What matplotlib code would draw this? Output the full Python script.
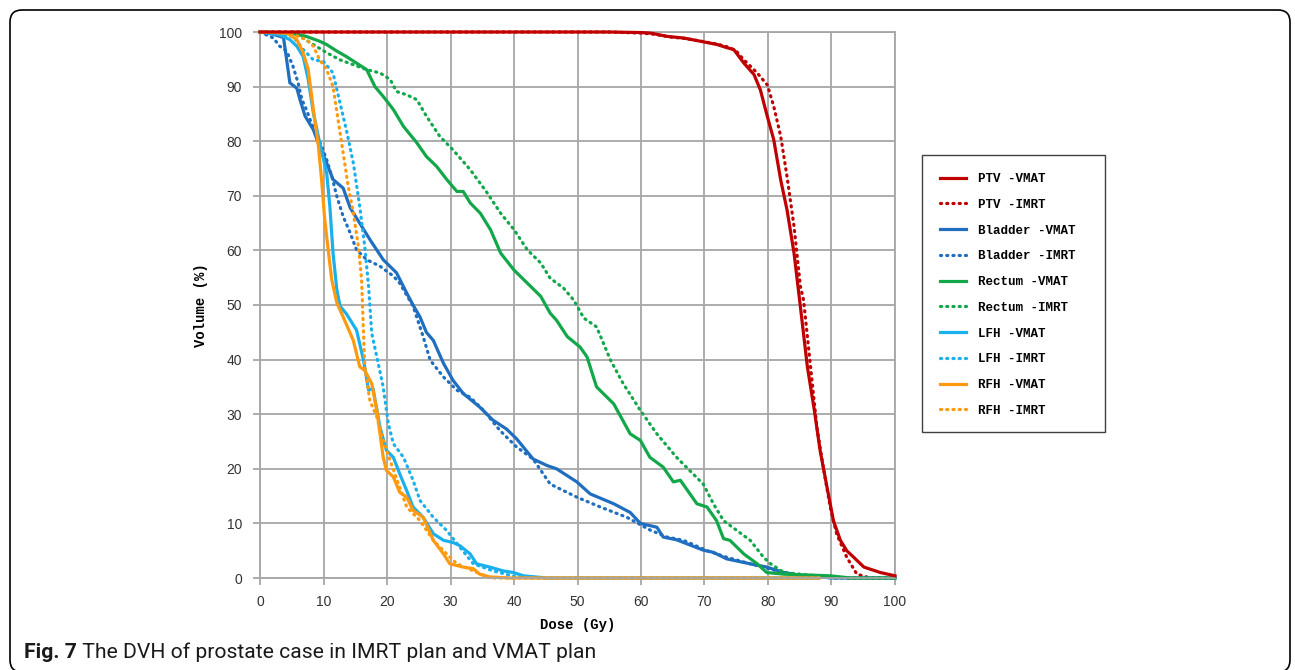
"""
DVH of a prostate case: IMRT plan vs VMAT plan
"""

import matplotlib
matplotlib.use("Agg")
import matplotlib.pyplot as plt
from matplotlib.patches import FancyBboxPatch, Rectangle

# ---- data (dose in Gy, volume in %) ----
ptv_vmat_dose = [0, 40, 55, 60, 61.5, 64.1, 66.7, 69.4, 72, 73.6, 74.6, 76.2, 77.8, 78.8, 79.9, 80.9,
                 82, 83, 84.1, 85.1, 86.2, 87.3, 88.2, 89.3, 90.3, 91.4, 92.4, 93.5, 95.1, 97.7, 100]
ptv_vmat_vol = [100, 100, 100, 99.9, 99.8, 99.2, 98.9, 98.3, 97.7, 97.1, 96.8, 94.3, 92.2, 89.4, 84.5, 80.3,
                72.9, 67.4, 59.5, 49.7, 38.7, 30.7, 23.4, 16.6, 10.5, 6.9, 5.0, 3.8, 2.0, 1.0, 0.4]

ptv_imrt_dose = [0, 40, 55, 60, 62, 64.5, 67, 69.5, 72, 73.8, 75, 76.2, 78.3, 79.9, 80.9, 82, 83,
                 84.1, 85.1, 85.6, 86.7, 87.7, 88.7, 89.8, 90.8, 92.4, 94, 96.1, 100]
ptv_imrt_vol = [100, 100, 100, 99.8, 99.6, 99.1, 98.8, 98.3, 97.8, 97.2, 96.5, 94.9, 92.5, 90.3, 86.4, 80.9, 73.5,
                64.4, 53.4, 50.9, 38.7, 27.6, 20.3, 13.0, 8.1, 3.8, 0.7, 0, 0]

bladder_vmat_dose = [0, 2, 3.7, 4.2, 4.7, 5.8, 6.3, 7.1, 8.4, 9.4, 10.5, 11.5, 13.1, 14.2, 15.7, 17.3,
                     19.4, 21.5, 23.1, 24.1, 25.2, 26.2, 27.3, 28.9, 30.4, 32, 34.6, 36.7, 38.8, 40.4,
                     43, 45.2, 46.7, 49.9, 52, 55.7, 58.3, 59.9, 62.5, 63.5, 65.6, 69.8, 71.4, 73.5,
                     77.2, 79.8, 82.5, 85.6, 90.3, 100]
bladder_vmat_vol = [100, 99.6, 99, 94.9, 90.7, 89.7, 87.6, 84.6, 82.1, 79, 76, 73, 71.4, 67.8, 65, 62,
                    58.3, 55.9, 52.2, 50, 47.8, 45, 43.5, 39.3, 36.2, 33.8, 31.3, 28.9, 27.3, 25.5,
                    21.8, 20.6, 20, 17.6, 15.4, 13.6, 12, 10, 9.3, 7.5, 7, 5.1, 4.7, 3.5,
                    2.6, 2.0, 1.0, 0.4, 0, 0]

bladder_imrt_dose = [0, 2.1, 3.1, 4.2, 5.2, 6.0, 6.6, 7.3, 8.1, 8.9, 9.7, 10.5, 11.3, 12.1, 13.1, 14.2,
                     15.2, 16.8, 18.9, 21, 22, 24.1, 25.7, 26.8, 28.9, 31, 33.1, 35.2, 37.8, 40.4, 43,
                     45.7, 49.9, 53.6, 57.8, 61.4, 64.1, 66.7, 70.4, 73.5, 77.2, 81.4, 85.6, 90.3, 100]
bladder_imrt_vol = [100, 98.9, 97.4, 96.5, 93.7, 90.7, 87.6, 85.8, 83.3, 81.2, 79.1, 76.6, 73.6, 69.9, 66.2, 63.2,
                    60.1, 58.3, 57.1, 55.3, 54.0, 49.8, 44.2, 39.9, 36.8, 34.4, 33.1, 30.7, 27.0, 24.0, 21.8,
                    17.2, 14.8, 13.0, 11.1, 8.8, 7.5, 6.9, 5.0, 3.8, 2.6, 1.3, 0.4, 0, 0]

rectum_vmat_dose = [0, 4.7, 7.3, 9.4, 10.5, 12.1, 13.6, 15.2, 16.8, 18.1, 19.4, 21, 22.6, 24.7, 26.2,
                    27.8, 29.4, 31, 32, 33.1, 34.7, 36.3, 37.9, 40, 42.1, 44.2, 45.7, 46.7, 48.4, 50.4,
                    51.5, 53, 55.7, 58.3, 59.9, 61.4, 63.5, 65.1, 66.2, 68.8, 70.4, 71.9, 73, 74, 76.2,
                    78.3, 79.8, 82.5, 89.8, 93, 100]
rectum_vmat_vol = [100, 99.8, 99.2, 98.3, 97.7, 96.5, 95.5, 94.3, 93.1, 90, 88.2, 85.8, 82.7, 79.7, 77.2,
                   75.4, 73, 70.8, 70.8, 68.7, 66.8, 63.8, 59.5, 56.4, 54, 51.6, 48.5, 47.2, 44.2, 42.3,
                   40.5, 35, 31.9, 26.4, 25.2, 22.1, 20.3, 17.6, 17.9, 13.6, 13, 10.5, 7.2, 6.9, 4.4,
                   2.6, 1.0, 0.7, 0.4, 0, 0]

rectum_imrt_dose = [0, 4.7, 6.3, 8.4, 10.5, 12.6, 14.7, 16.8, 18.9, 20.5, 21.5, 23.1, 24.7, 26.2, 28.3,
                    30.4, 33.1, 35.8, 37.9, 40, 42.1, 44.2, 45.7, 47.8, 49.4, 51, 53, 55.2, 57.2, 59.9,
                    62.5, 65.6, 69.8, 71.4, 73, 75.1, 77.2, 79.3, 80.4, 82.5, 87.7, 93, 100]
rectum_imrt_vol = [100, 99.8, 99.2, 97.7, 96.2, 94.9, 94, 93.1, 92.5, 91.3, 89.1, 88.5, 87.6, 84.6, 80.9,
                   78.4, 74.8, 70.5, 66.8, 63.8, 60.1, 57.7, 54.9, 53.1, 50.9, 47.6, 46, 39.9, 35.6, 30.7,
                   26.4, 22.1, 17.2, 13.6, 10.5, 8.7, 6.9, 3.8, 2.6, 1.0, 0.4, 0, 0]

lfh_vmat_dose = [0, 3.1, 4.7, 5.8, 6.8, 7.6, 8.4, 9.4, 10.5, 11, 11.5, 12.1, 12.6, 13.6, 15.2, 16.3,
                 17.1, 17.8, 18.9, 19.9, 21, 22, 23.1, 24.1, 25.7, 27.3, 28.9, 30.4, 31.5, 33.1, 34.1,
                 36.2, 38.3, 39.9, 41.5, 45.2, 88]
lfh_vmat_vol = [100, 99.5, 98.6, 97.4, 95.5, 91.3, 85.2, 79.7, 74.2, 68.1, 59.5, 52.8, 49.8, 48.4, 45.4, 39.9,
                34.4, 34.7, 27.6, 23.4, 22.1, 19.1, 16, 13, 11.1, 8.1, 6.9, 6.5, 5.9, 4.4, 2.6,
                2.0, 1.3, 1.0, 0.4, 0, 0]

lfh_imrt_dose = [0, 3.1, 5.2, 6.8, 8.4, 10, 11.5, 12.6, 13.6, 14.7, 15.7, 16.5, 17.1, 17.6, 18.4, 19.4,
                 20.2, 21, 22.6, 24.1, 25.2, 27.3, 29.4, 31.5, 33.6, 36.7, 40.4, 43, 88]
lfh_imrt_vol = [100, 99.5, 99.2, 96.8, 94.9, 94.6, 92.5, 87, 82.1, 76, 68.1, 60.7, 53.4, 44.8, 40.5, 35,
                28.3, 24.6, 22.1, 17.9, 14.2, 11.1, 8.7, 5.6, 2.6, 1.3, 0.2, 0, 0]

rfh_vmat_dose = [0, 4.2, 5.8, 6.8, 7.6, 8.4, 9.2, 9.7, 10.2, 10.8, 11.3, 12.1, 13.1, 14.7, 15.7, 16.5,
                 17.6, 18.4, 19.4, 19.9, 21, 22, 23.1, 24.1, 25.7, 27.3, 28.9, 29.9, 32, 33.6, 34.6,
                 36.2, 39.4, 88]
rfh_vmat_vol = [100, 99.8, 98.6, 96.2, 93.1, 85.8, 79.1, 72.9, 65.6, 59.5, 54.6, 50.4, 47.8, 43.5, 38.7, 38,
                35.6, 30.7, 22.1, 19.7, 18.5, 15.7, 14.8, 12.4, 11.1, 6.9, 4.4, 2.6, 2.0, 1.7, 0.7,
                0.2, 0, 0]

rfh_imrt_dose = [0, 4.7, 7.3, 8.4, 9.4, 10.5, 11.5, 12.3, 13.1, 13.9, 14.7, 15.5, 16, 16.3, 16.5, 17.3,
                 18.4, 19.4, 20.5, 22, 23.1, 25.2, 27.3, 29.4, 31, 33.6, 36.2, 88]
rfh_imrt_vol = [100, 99.8, 98.6, 97.4, 94.9, 93.1, 90, 83.9, 77.8, 71.7, 66.8, 60.7, 54.6, 44.8, 38.7, 32.5,
                29.5, 25.2, 21.5, 16.6, 13, 10.5, 6.9, 4.4, 2.6, 1.3, 0, 0]

x_ticks = list(range(0, 101, 10))
y_ticks = list(range(0, 101, 10))

# ---- styling ----
RED, BLUE, GREEN, CYAN, ORANGE = "#C00000", "#1F6EC0", "#12A84A", "#1AB0EC", "#FF9A10"
DOTS = (0, (0.35, 1.6))

series = [
    (ptv_vmat_dose, ptv_vmat_vol, RED, "-", "PTV -VMAT"),
    (ptv_imrt_dose, ptv_imrt_vol, RED, DOTS, "PTV -IMRT"),
    (bladder_vmat_dose, bladder_vmat_vol, BLUE, "-", "Bladder -VMAT"),
    (bladder_imrt_dose, bladder_imrt_vol, BLUE, DOTS, "Bladder -IMRT"),
    (rectum_vmat_dose, rectum_vmat_vol, GREEN, "-", "Rectum -VMAT"),
    (rectum_imrt_dose, rectum_imrt_vol, GREEN, DOTS, "Rectum -IMRT"),
    (lfh_vmat_dose, lfh_vmat_vol, CYAN, "-", "LFH -VMAT"),
    (lfh_imrt_dose, lfh_imrt_vol, CYAN, DOTS, "LFH -IMRT"),
    (rfh_vmat_dose, rfh_vmat_vol, ORANGE, "-", "RFH -VMAT"),
    (rfh_imrt_dose, rfh_imrt_vol, ORANGE, DOTS, "RFH -IMRT"),
]

W, H = 1295, 670
fig = plt.figure(figsize=(W / 100, H / 100), dpi=100)
ax = fig.add_axes([260 / W, 1 - 578 / H, 635 / W, 546 / H])

for i, (dose, vol, color, ls, label) in enumerate(series):
    z = 3 if i == 0 else 2 + i * 0.01   # solid PTV line stays visible along 100 %
    ax.plot(dose, vol, color=color, linestyle=ls, linewidth=2.3, label=label, zorder=z,
            dash_capstyle="round", solid_joinstyle="round", clip_on=False)

ax.set_xlim(0, 100)
ax.set_ylim(0, 100)
ax.set_xticks(x_ticks)
ax.set_yticks(y_ticks)
ax.grid(True, color="#A6A6A6", linewidth=1.3)
ax.set_axisbelow(True)
for sp in ax.spines.values():
    sp.set_color("#A6A6A6")
    sp.set_linewidth(1.3)
ax.tick_params(direction="out", width=1.3, color="#A6A6A6", labelsize=10, labelcolor="#333333")
ax.tick_params(axis="x", length=5, pad=7)
ax.tick_params(axis="y", length=5, pad=8)
for lab in ax.get_xticklabels() + ax.get_yticklabels():
    lab.set_family("Liberation Sans")

ax.set_xlabel("Dose (Gy)", family="Liberation Mono", fontweight="bold", fontsize=10, labelpad=7)
ax.set_ylabel("Volume (%)", family="Liberation Mono", fontweight="bold", fontsize=10, labelpad=8)

# legend: frameless, with its own box drawn at the reference position
leg = ax.legend(loc="upper left", bbox_to_anchor=(940 / W, 1 - 173 / H),
                bbox_transform=fig.transFigure, frameon=False,
                prop={"family": "Liberation Mono", "weight": "bold", "size": 9},
                handlelength=2.1, handletextpad=0.9, labelspacing=1.1,
                borderpad=0, borderaxespad=0)
fig.add_artist(Rectangle((922 / W, 1 - 432 / H), 183 / W, 277 / H, transform=fig.transFigure,
                         facecolor="none", edgecolor="#404040", linewidth=1.0))

# outer rounded frame
frame = FancyBboxPatch((0.10, -0.02), 12.80, 6.62, boxstyle="round,pad=0,rounding_size=0.12",
                       transform=fig.dpi_scale_trans, facecolor="none", edgecolor="black",
                       linewidth=1.2)
fig.add_artist(frame)

# caption
t1 = fig.text(24 / W, 1 - 662 / H, "Fig. 7", family="Roboto", fontweight="bold",
              fontsize=15.2, va="bottom", color="#1a1a1a")
ax.annotate(" The DVH of prostate case in IMRT plan and VMAT plan", xy=(1, 0), xycoords=t1,
            va="bottom", ha="left", family="Roboto", fontsize=15.2, color="#1a1a1a",
            annotation_clip=False)

fig.savefig("out.png", dpi=100)
